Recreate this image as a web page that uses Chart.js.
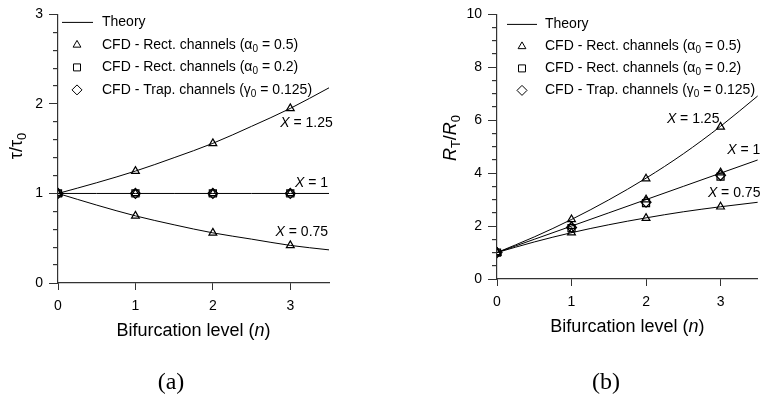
<!DOCTYPE html>
<html>
<head>
<meta charset="utf-8">
<script src="https://cdn.jsdelivr.net/npm/chart.js@4.4.1/dist/chart.umd.min.js"></script>
<style>
  body { margin: 0; background: #fff; }
  #wrap { position: relative; width: 764px; height: 397px; background: #fff; }
  canvas { position: absolute; top: 0; }
  #chartA { left: 0; }
  #chartB { left: 382px; }
</style>
</head>
<body>
<div id="wrap">
  <canvas id="chartA" width="382" height="397"></canvas>
  <canvas id="chartB" width="382" height="397"></canvas>
</div>
<script>
// bifurcation levels
const nTheory = [0, 0.5, 1, 1.5, 2, 2.5, 3, 3.5];
const nCfd = [0, 1, 2, 3];
const xTicks = [0, 1, 2, 3];

// (a) tau / tau0
const tauTheory125 = [1, 1.12, 1.25, 1.40, 1.56, 1.75, 1.95, 2.18];
const tauTheory1 = [1, 1, 1, 1, 1, 1, 1, 1];
const tauTheory075 = [1, 0.87, 0.75, 0.65, 0.56, 0.49, 0.42, 0.37];
const tauTri125 = [1, 1.25, 1.56, 1.95];
const tauTri1 = [1, 1, 1, 1];
const tauTri075 = [1, 0.75, 0.56, 0.42];
const tauSquare = [1, 1, 1, 1];
const tauDiamond = [1, 1, 1, 1];
const yTicksA = [0, 1, 2, 3];

// (b) R_T / R_0
const rTheory125 = [1, 1.59, 2.25, 2.99, 3.81, 4.73, 5.77, 6.92];
const rTheory1 = [1, 1.5, 2, 2.5, 3, 3.5, 4, 4.5];
const rTheory075 = [1, 1.40, 1.75, 2.05, 2.31, 2.54, 2.73, 2.90];
const rTri125 = [1, 2.25, 3.79, 5.75];
const rTri1 = [1, 2.0, 3.0, 4.02];
const rTri075 = [1, 1.75, 2.30, 2.73];
const rSquare = [1, 1.92, 2.87, 3.87];
const rDiamond = [1, 1.95, 2.90, 3.92];
const yTicksB = [0, 2, 4, 6, 8, 10];

const FONT = "'Liberation Sans', Arial, sans-serif";
const AXIS = '#333';

function pts(xs, ys) {
    return xs.map((x, i) => ({x: x, y: ys[i]}));
}

function theory(xs, ys) {
    return {
        data: pts(xs, ys), showLine: true, borderColor: '#000', borderWidth: 1,
        pointRadius: 0, cubicInterpolationMode: 'monotone', fill: false
    };
}

function cfd(ys, style, r) {
    return {
        data: pts(nCfd, ys), showLine: false, pointStyle: style, pointRadius: r,
        pointBorderColor: '#000', pointBackgroundColor: 'rgba(0,0,0,0)', pointBorderWidth: 1.2
    };
}

// minor tick positions between the labelled ticks
function minorTicks(major, perMajor) {
    const out = [];
    for (let i = 0; i < major.length - 1; i++) {
        const d = (major[i + 1] - major[i]) / perMajor;
        for (let k = 1; k < perMajor; k++) out.push({value: major[i] + k * d});
    }
    return out;
}

// text made of pieces (italic / subscript)
function drawParts(ctx, parts, x, y, size, align) {
    const fontOf = p => (p.i ? 'italic ' : '') + (p.sub ? Math.round(size * 0.7) : size) + 'px ' + FONT;
    let w = 0;
    parts.forEach(p => { ctx.font = fontOf(p); w += ctx.measureText(p.t).width; });
    let cx = align === 'center' ? x - w / 2 : x;
    ctx.textAlign = 'left';
    ctx.textBaseline = 'middle';
    ctx.fillStyle = '#000';
    parts.forEach(p => {
        ctx.font = fontOf(p);
        ctx.fillText(p.t, cx, y + (p.sub ? size * 0.3 : 0));
        cx += ctx.measureText(p.t).width;
    });
}

function marker(ctx, style, x, y) {
    ctx.beginPath();
    if (style === 'triangle') {
        const r = 4.5;
        ctx.moveTo(x, y - r);
        ctx.lineTo(x + r * 0.866, y + r / 2);
        ctx.lineTo(x - r * 0.866, y + r / 2);
        ctx.closePath();
    } else if (style === 'rect') {
        ctx.rect(x - 3.5, y - 3.5, 7, 7);
    } else {
        ctx.moveTo(x - 5, y); ctx.lineTo(x, y - 5); ctx.lineTo(x + 5, y); ctx.lineTo(x, y + 5);
        ctx.closePath();
    }
    ctx.stroke();
}

const legendRows = [
    {style: 'line', parts: [{t: 'Theory'}]},
    {style: 'triangle', parts: [{t: 'CFD - Rect. channels (α'}, {t: '0', sub: true}, {t: ' = 0.5)'}]},
    {style: 'rect', parts: [{t: 'CFD - Rect. channels (α'}, {t: '0', sub: true}, {t: ' = 0.2)'}]},
    {style: 'rectRot', parts: [{t: 'CFD - Trap. channels (γ'}, {t: '0', sub: true}, {t: ' = 0.125)'}]}
];

const xTitle = [{t: 'Bifurcation level ('}, {t: 'n', i: true}, {t: ')'}];

const decor = {
    id: 'decor',
    afterDraw(chart, args, o) {
        const ctx = chart.ctx;
        const area = chart.chartArea;
        const xs = chart.scales.x, ys = chart.scales.y;
        ctx.save();
        ctx.strokeStyle = '#000';
        ctx.lineWidth = 1;
        // legend
        legendRows.forEach((row, i) => {
            const y = area.top + o.legend.y + i * o.legend.dy;
            if (row.style === 'line') {
                ctx.beginPath();
                ctx.moveTo(area.left + o.legend.line[0], y);
                ctx.lineTo(area.left + o.legend.line[1], y);
                ctx.stroke();
            } else {
                marker(ctx, row.style, area.left + o.legend.mark, y);
            }
            drawParts(ctx, row.parts, area.left + o.legend.text, y, 14, 'left');
        });
        // curve labels
        o.notes.forEach(nt => {
            drawParts(ctx, [{t: 'X', i: true}, {t: ' = ' + nt.label}],
                xs.getPixelForValue(nt.n), ys.getPixelForValue(nt.v), 14, 'left');
        });
        // axis titles
        drawParts(ctx, xTitle, (area.left + area.right) / 2, area.bottom + 48, 18, 'center');
        ctx.translate(o.yTitle.x, o.yTitle.y);
        ctx.rotate(-Math.PI / 2);
        drawParts(ctx, o.yTitle.parts, 0, 0, 18, 'center');
        ctx.restore();
        // caption
        ctx.save();
        ctx.fillStyle = '#000';
        ctx.font = "24px 'Liberation Serif', 'Times New Roman', serif";
        ctx.textAlign = 'center';
        ctx.textBaseline = 'middle';
        ctx.fillText(o.caption.t, o.caption.x, o.caption.y);
        ctx.restore();
    }
};

function makeChart(id, datasets, yMax, yTicks, perMajor, box, deco) {
    return new Chart(document.getElementById(id), {
        type: 'scatter',
        data: {datasets: datasets},
        options: {
            responsive: false,
            animation: false,
            layout: {padding: {left: 0, top: box.top, right: box.right, bottom: 0}},
            plugins: {legend: {display: false}, tooltip: {enabled: false}, decor: deco},
            scales: {
                x: {
                    type: 'linear', min: 0, max: 3.5,
                    afterBuildTicks: s => { s.ticks = xTicks.map(v => ({value: v})); },
                    afterFit: s => { s.height = box.xh; },
                    ticks: {color: '#000', font: {family: FONT, size: 14}, padding: 8},
                    grid: {drawOnChartArea: false, drawTicks: true, tickLength: 7, color: AXIS},
                    border: {color: AXIS, width: 1.2}
                },
                y: {
                    type: 'linear', position: 'left', weight: 1, min: 0, max: yMax,
                    afterBuildTicks: s => { s.ticks = yTicks.map(v => ({value: v})); },
                    afterFit: s => { s.width = box.yw; },
                    ticks: {color: '#000', font: {family: FONT, size: 14}, padding: 6},
                    grid: {drawOnChartArea: false, drawTicks: true, tickLength: 9, color: AXIS},
                    border: {color: AXIS, width: 1.2}
                },
                yMinor: {
                    type: 'linear', position: 'left', weight: 0, min: 0, max: yMax,
                    afterBuildTicks: s => { s.ticks = minorTicks(yTicks, perMajor); },
                    afterFit: s => { s.width = 0; },
                    ticks: {display: false},
                    grid: {drawOnChartArea: false, drawTicks: true, tickLength: 5, color: AXIS, lineWidth: 1.2},
                    border: {display: false}
                }
            }
        },
        plugins: [decor]
    });
}

makeChart('chartA', [
    theory(nTheory, tauTheory125),
    theory(nTheory, tauTheory1),
    theory(nTheory, tauTheory075),
    cfd(tauTri125, 'triangle', 4.5),
    cfd(tauTri1, 'triangle', 4.5),
    cfd(tauTri075, 'triangle', 4.5),
    cfd(tauSquare, 'rect', 5),
    cfd(tauDiamond, 'rectRot', 5)
], 3, yTicksA, 5, {top: 13, right: 53, xh: 114, yw: 58}, {
    legend: {y: 8, dy: 22.5, line: [4, 35], mark: 19, text: 44},
    notes: [
        {n: 2.87, v: 1.79, label: '1.25'},
        {n: 3.06, v: 1.12, label: '1'},
        {n: 2.81, v: 0.57, label: '0.75'}
    ],
    yTitle: {x: 17, y: 146, parts: [{t: 'τ/τ'}, {t: '0', sub: true}]},
    caption: {t: '(a)', x: 171, y: 383}
});

makeChart('chartB', [
    theory(nTheory, rTheory125),
    theory(nTheory, rTheory1),
    theory(nTheory, rTheory075),
    cfd(rTri125, 'triangle', 4.5),
    cfd(rTri1, 'triangle', 4.5),
    cfd(rTri075, 'triangle', 4.5),
    cfd(rSquare, 'rect', 5),
    cfd(rDiamond, 'rectRot', 5)
], 10, yTicksB, 4, {top: 13, right: 1, xh: 118, yw: 115}, {
    legend: {y: 10, dy: 22, line: [10, 40], mark: 25, text: 48},
    notes: [
        {n: 2.28, v: 6.03, label: '1.25'},
        {n: 3.09, v: 4.86, label: '1'},
        {n: 2.83, v: 3.24, label: '0.75'}
    ],
    yTitle: {x: 69, y: 138, parts: [{t: 'R', i: true}, {t: 'T', sub: true}, {t: '/'}, {t: 'R', i: true}, {t: '0', sub: true}]},
    caption: {t: '(b)', x: 224, y: 383}
});
</script>
</body>
</html>
